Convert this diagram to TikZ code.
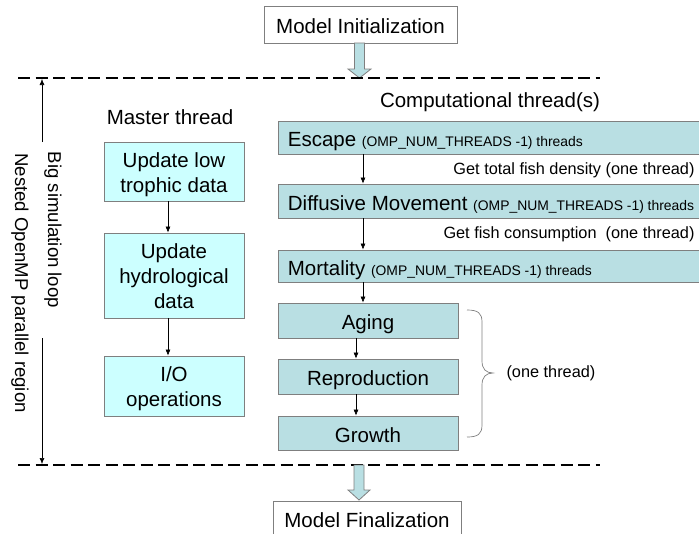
\documentclass[tikz,border=0pt]{standalone}
\usepackage{fontspec}
\setmainfont{Liberation Sans}
\usetikzlibrary{arrows.meta}
\definecolor{mfill}{HTML}{CCFFFF}
\definecolor{cfill}{HTML}{B9DFE3}
\definecolor{bord}{HTML}{7F7F7F}
\newcommand\fsz[2]{\fontsize{#1pt}{#2pt}\selectfont}
\newcommand\omptxt{{\fsz{13.9}{16}(OMP\_NUM\_THREADS -1) threads}}
\newcommand\mlines[1]{\raisebox{-3pt}[\height][\depth]{\setlength{\tabcolsep}{0pt}\begin{tabular}{c}#1\end{tabular}}}
\begin{document}
\begin{tikzpicture}[x=1pt,y=-1pt,font=\fsz{20.5}{25}]
\tikzset{
 mbox/.style={draw=bord, fill=mfill, line width=0.8pt, minimum width=140, inner sep=0pt},
 cbox/.style={draw=bord, fill=cfill, line width=0.8pt, inner ysep=0pt, minimum height=33, text height=21pt, text depth=2.5pt},
 wbox/.style={draw=bord, fill=white, line width=0.8pt, inner sep=0pt, text height=20.5pt, text depth=3.5pt},
 arr/.style={-{Latex[length=6pt,width=5pt]}, line width=0.6pt},
 dline/.style={dash pattern=on 12pt off 5.5pt, line width=1.8pt},
 bigarr/.style={draw=bord, fill=cfill, line width=0.8pt},
 small/.style={font=\fsz{16.3}{20}},
 vtext/.style={rotate=-90, font=\fsz{18.6}{22}}
}
\useasboundingbox (0,0) rectangle (699,533);
\clip (0,0) rectangle (699,533);

% top and bottom
\node[wbox, minimum width=193, minimum height=37] (init) at (360.5,24.5) {Model Initialization};
\draw[bigarr] (354.5,43) -- (354.5,69) -- (348,69) -- (359.5,78) -- (371,69) -- (364.5,69) -- (364.5,43) -- cycle;

\coordinate (dl1) at (18,78);
\coordinate (dr1) at (600,78);
\coordinate (dl2) at (18,465);
\coordinate (dr2) at (600,465);
\draw[dline] (dl1) -- (dr1);
\draw[dline] (dl2) -- (dr2);

\draw[bigarr] (354,465) -- (354,490) -- (348,490) -- (359,500) -- (370,490) -- (364,490) -- (364,465) -- cycle;
\node[wbox, minimum width=188, minimum height=36] (fin) at (367,519) {Model Finalization};

% loop arrows and labels
\coordinate (v1s) at (42,142);
\coordinate (v1e) at (42,79);
\coordinate (v2s) at (42,338);
\coordinate (v2e) at (42,464);
\draw[arr] (v1s) -- (v1e);
\draw[arr] (v2s) -- (v2e);
\node[vtext] (bsl) at (53,230) {Big simulation loop};
\node[vtext] (nop) at (20,283) {Nested OpenMP parallel region};

% master thread
\node (mt) at (170,117) {Master thread};
\node[mbox, minimum height=59] (m1) at (174,171.5) {\mlines{Update low\\trophic data}};
\node[mbox, minimum height=85] (m2) at (174,275.5) {\mlines{Update\\hydrological\\data}};
\node[mbox, minimum height=60] (m3) at (174,386) {\mlines{I/O\\operations}};
\coordinate (mx) at (168,0);
\draw[arr] (m1.south -| mx) -- (m2.north -| mx);
\draw[arr] (m2.south -| mx) -- (m3.north -| mx);

% computational threads
\node (ct) at (490,102) {Computational thread(s)};
\node[cbox, anchor=west, inner xsep=9.5pt, minimum height=33] (esc) at (278,137.5)
  {\makebox[412pt][l]{Escape \omptxt}};
\node[cbox, anchor=west, inner xsep=9.5pt, minimum height=34] (dif) at (278,201)
  {\makebox[412pt][l]{Diffusive Movement \omptxt}};
\node[cbox, anchor=west, inner xsep=9.5pt, minimum height=32] (mor) at (278,266)
  {\makebox[412pt][l]{Mortality \omptxt}};
\node[small, anchor=east] (t1) at (698,170) {Get total fish density (one thread)};
\node[small, anchor=east] (t2) at (698,234) {Get fish consumption\ \ (one thread)};

\node[cbox, minimum width=180, minimum height=35] (age) at (368,320.5) {Aging};
\node[cbox, minimum width=180, minimum height=35] (rep) at (368,376.5) {Reproduction};
\node[cbox, minimum width=180, minimum height=34] (gro) at (368,433) {Growth};

\coordinate (cx) at (363,0);
\coordinate (gx) at (356,0);
\draw[arr] (esc.south -| cx) -- (dif.north -| cx);
\draw[arr] (dif.south -| cx) -- (mor.north -| cx);
\draw[arr] (mor.south -| cx) -- (age.north -| cx);
\draw[arr] (age.south -| gx) -- (rep.north -| gx);
\draw[arr] (rep.south -| gx) -- (gro.north -| gx);

% brace
\draw[bord, line width=0.7pt] (467,310) .. controls (478,310) and (482,313) .. (482,322) -- (482,361)
  .. controls (482,369) and (486,373) .. (493,373)
  .. controls (486,373) and (482,377) .. (482,385) -- (482,425)
  .. controls (482,434) and (478,437) .. (467,437);
\node[small, anchor=west] (one) at (503,373) {(one thread)};
\end{tikzpicture}
\end{document}
